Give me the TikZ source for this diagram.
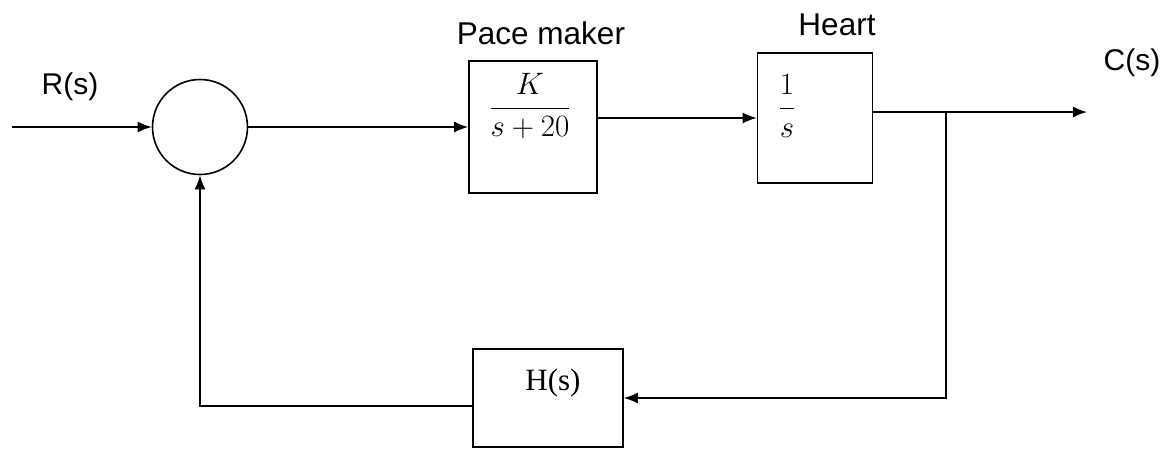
\RequirePackage{fix-cm}
\documentclass[tikz,border=0pt]{standalone}
\usepackage{fontspec}
\setmainfont{Liberation Sans}
\newfontfamily\timesf{Liberation Serif}
\usetikzlibrary{arrows.meta}
\begin{document}
\begin{tikzpicture}[x=1pt,y=-1pt, line width=1.6pt,
  blk/.style={draw, rectangle, inner sep=0pt},
  lbl/.style={font=\fontsize{30}{36}\selectfont, inner sep=0pt},
  big/.style={font=\fontsize{31.5}{38}\selectfont, inner sep=0pt},
  mth/.style={font=\fontsize{31}{37}\selectfont, inner sep=0pt},
  arr/.style={-{Latex[length=14pt,width=11pt]}}]
\useasboundingbox (0,0) rectangle (1173,448);
% blocks
\node[draw, circle, minimum size=95pt, inner sep=0pt] (sum) at (200,127) {};
\node[blk, minimum width=128pt, minimum height=132pt] (pm) at (533,127) {};
\node[blk, minimum width=115pt, minimum height=130pt] (heart) at (815,118) {};
\node[blk, minimum width=150pt, minimum height=98pt] (H) at (548,398) {};
% texts
\node[lbl] (rs) at (70,87) {R(s)};
\node[lbl] (cs) at (1132,63) {C(s)};
\node[big] (pml) at (541,33) {Pace maker};
\node[big] (hl) at (837,25) {Heart};
\node[mth] (pmf) at (530,106) {$\displaystyle\frac{K}{s+20}$};
\node[mth] (hf) at (787,106) {$\displaystyle\frac{1}{s}$};
\node[lbl, font=\fontsize{31}{37}\selectfont\timesf] (hs) at (553,383) {H(s)};
% coordinates
\coordinate (in) at (12,127);
\coordinate (out) at (1087,112);
\coordinate (br) at (946,112);
\coordinate (brd) at (946,398);
\coordinate (fb) at (200,406);
% connectors
\draw[arr] (in) -- (sum.west);
\draw[arr] (sum.east) -- (pm.west);
\draw[arr] (pm.east |- heart.west) -- (heart.west);
\draw[arr] (heart.east |- out) -- (out);
\draw[arr] (br) -- (brd) -- (H.east |- brd);
\draw[arr] (H.west |- fb) -- (fb) -- (sum.south);
\end{tikzpicture}
\end{document}
